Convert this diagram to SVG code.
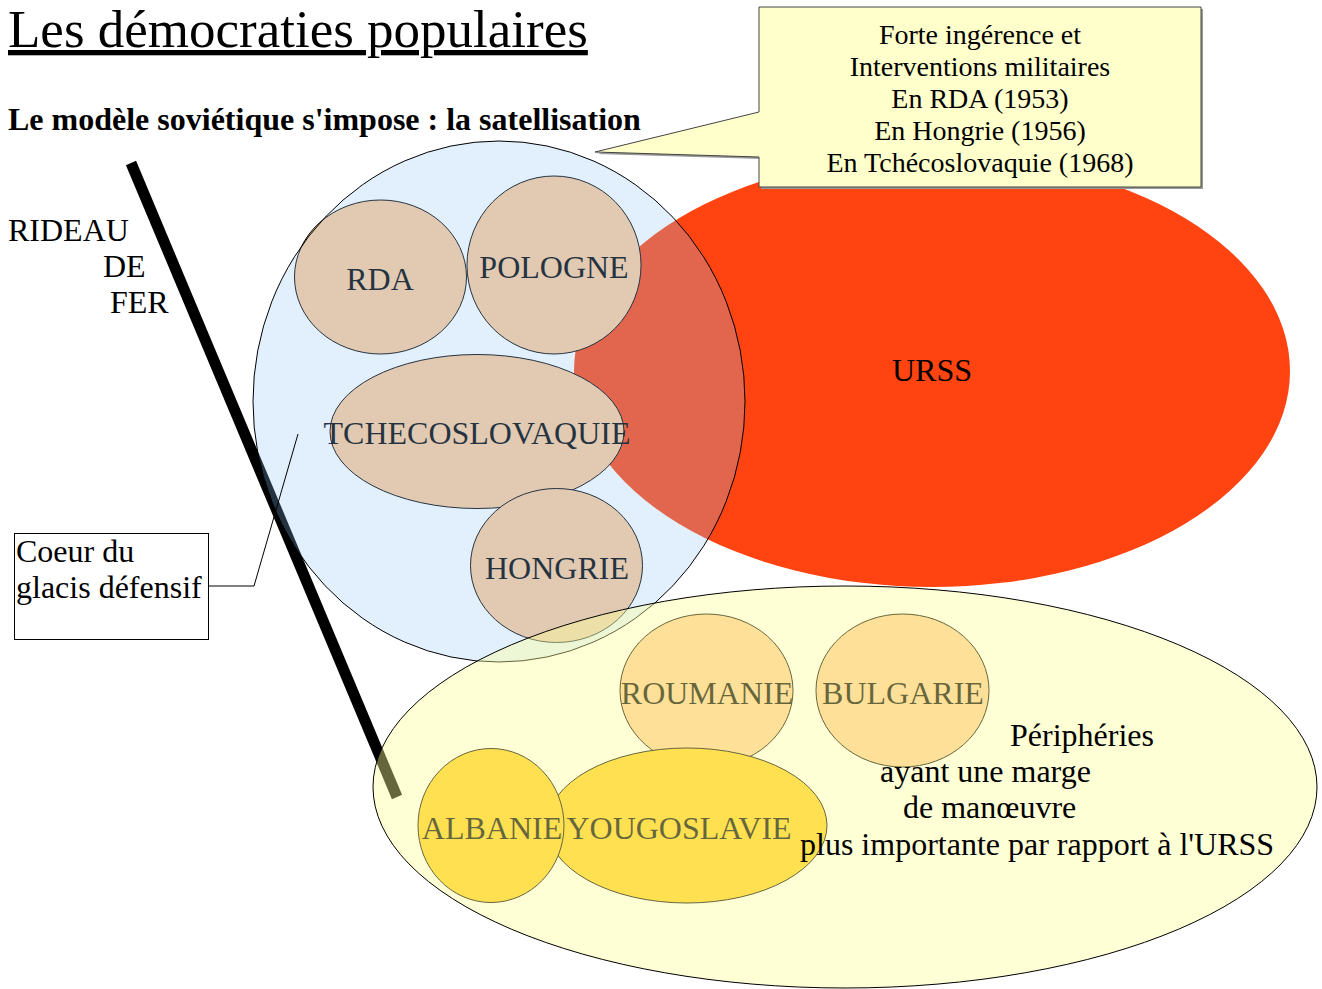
<svg xmlns="http://www.w3.org/2000/svg" width="1322" height="989" viewBox="0 0 1322 989">
<style>
text{font-family:"Liberation Serif","Times New Roman",serif;fill:#000}
.lbl{font-size:32px;text-anchor:middle}
.big{font-size:32px}
.cty{stroke:#000;stroke-width:1}
.tan{fill:#FFCC99}
.gold{fill:#FFCC22}
.co{font-size:28px;text-anchor:middle}
</style>
<rect width="1322" height="989" fill="#fff"/>
<g id="title">
<text x="8" y="47" font-size="53" text-decoration="underline">Les démocraties populaires</text>
<text x="8" y="130" font-size="32" font-weight="bold">Le modèle soviétique s'impose : la satellisation</text>
</g>
<g id="urss">
<ellipse cx="932" cy="371" rx="358" ry="216" fill="#FF4411"/>
<text class="lbl" x="932" y="381">URSS</text>
</g>
<g id="rideau-line">
<line x1="131" y1="163" x2="397" y2="797" stroke="#000" stroke-width="11"/>
</g>
<g id="rda"><ellipse class="cty tan" cx="380.5" cy="277" rx="86" ry="77"/><text class="lbl" x="380" y="290">RDA</text></g>
<g id="pologne"><ellipse class="cty tan" cx="554" cy="265" rx="87" ry="89"/><text class="lbl" x="554" y="278">POLOGNE</text></g>
<g id="tchecoslovaquie"><ellipse class="cty tan" cx="477" cy="431.5" rx="147" ry="77"/><text class="lbl" x="477" y="444">TCHECOSLOVAQUIE</text></g>
<g id="hongrie"><ellipse class="cty tan" cx="556.5" cy="565.5" rx="86" ry="77"/><text class="lbl" x="557" y="579">HONGRIE</text></g>
<g id="glacis">
<ellipse cx="499" cy="401.5" rx="246" ry="260.5" fill="#8EC4FA" fill-opacity="0.26" stroke="#000" stroke-width="1"/>
</g>
<g id="roumanie"><ellipse class="cty tan" cx="706.5" cy="690.5" rx="86.5" ry="76.5"/><text class="lbl" x="707" y="704">ROUMANIE</text></g>
<g id="bulgarie"><ellipse class="cty tan" cx="902.5" cy="690.5" rx="86.5" ry="76.5"/><text class="lbl" x="903" y="704">BULGARIE</text></g>
<g id="yougoslavie"><ellipse class="cty gold" cx="687" cy="825.5" rx="140" ry="77.5"/><text class="lbl" x="679" y="839">YOUGOSLAVIE</text></g>
<g id="albanie"><ellipse class="cty gold" cx="491" cy="825.5" rx="73" ry="77"/><text class="lbl" x="492" y="839">ALBANIE</text></g>
<g id="peripheries">
<ellipse cx="845" cy="787" rx="472" ry="201" fill="#FFFF99" fill-opacity="0.4" stroke="#000" stroke-width="1"/>
<text class="big" x="1010" y="746">Périphéries</text>
<text class="big" x="880" y="782">ayant une marge</text>
<text class="big" x="903" y="818">de manœuvre</text>
<text class="big" x="800" y="855">plus importante par rapport à l'URSS</text>
</g>
<g id="rideau-label">
<text class="big" x="8" y="241">RIDEAU</text>
<text class="big" x="103" y="277">DE</text>
<text class="big" x="110" y="313">FER</text>
</g>
<g id="callout">
<path d="M761,9 H1203 V189 H761 V159 L597,154 L761,114 Z" fill="#999"/>
<path d="M759,7 H1201 V187 H759 V157 L595,152 L759,112 Z" fill="#FFFFCC" stroke="#444" stroke-width="1"/>
<text class="co" x="980" y="44">Forte ingérence et</text>
<text class="co" x="980" y="76">Interventions militaires</text>
<text class="co" x="980" y="108">En RDA (1953)</text>
<text class="co" x="980" y="140">En Hongrie (1956)</text>
<text class="co" x="980" y="172">En Tchécoslovaquie (1968)</text>
</g>
<g id="connectors">
<polyline points="209,586 254,586 298,434" fill="none" stroke="#000" stroke-width="1"/>
</g>
<g id="coeur">
<rect x="14.5" y="533.5" width="194" height="106" fill="#fff" stroke="#000" stroke-width="1"/>
<text class="big" x="16" y="562">Coeur du</text>
<text class="big" x="16" y="598">glacis défensif</text>
</g>
</svg>
